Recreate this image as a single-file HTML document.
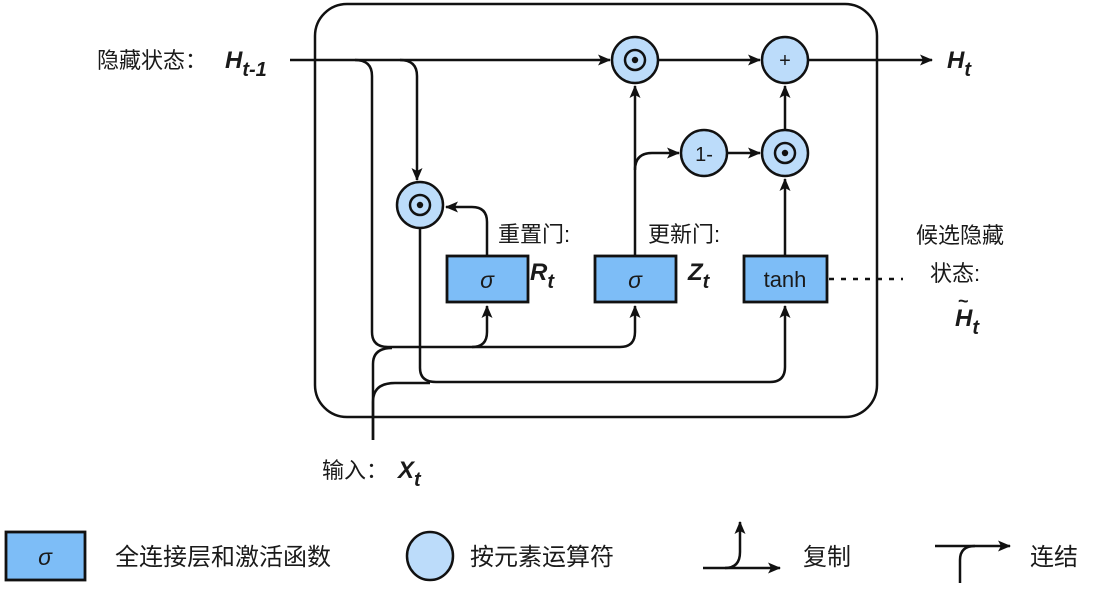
<!DOCTYPE html>
<html><head><meta charset="utf-8"><style>
html,body{margin:0;padding:0;background:#fff;}
svg{display:block;}
text{font-family:"Liberation Sans","Noto Sans CJK SC",sans-serif;fill:#1a1a1a;}
.b{font-weight:bold;font-style:italic;}
</style></head><body>
<svg width="1096" height="592" viewBox="0 0 1096 592" xmlns="http://www.w3.org/2000/svg">
<defs>
<marker id="a" markerWidth="13" markerHeight="11" refX="12" refY="5.5" orient="auto" markerUnits="userSpaceOnUse">
<path d="M0,0 L13,5.5 L0,11 L3,5.5 Z" fill="#111"/></marker>
</defs>
<g fill="none" stroke="#111" stroke-width="2.5">
<rect x="315" y="4" width="562" height="413" rx="32"/>
<path d="M290,60 L610,60" marker-end="url(#a)"/>
<path d="M355,60 Q372,60 372,76 L372,332 Q372,347 388,347 L472,347 Q487,347 487,332 L487,306" marker-end="url(#a)"/>
<path d="M472,347 L620,347 Q635,347 635,332 L635,306" marker-end="url(#a)"/>
<path d="M400,60 Q417,60 417,76 L417,180" marker-end="url(#a)"/>
<path d="M420,228 L420,368 Q420,382 436,382 L770,382 Q785,382 785,367 L785,306" marker-end="url(#a)"/>
<path d="M373,440 L373,364 Q373,348 392,348"/>
<path d="M373,440 L373,402 Q373,383 395,383 L430,383"/>
<path d="M487,256 L487,222 Q487,207 472,207 L446,207" marker-end="url(#a)"/>
<path d="M635,256 L635,86" marker-end="url(#a)"/>
<path d="M635,170 Q635,153 652,153 L679,153" marker-end="url(#a)"/>
<path d="M727,153 L760,153" marker-end="url(#a)"/>
<path d="M785,256 L785,179" marker-end="url(#a)"/>
<path d="M785,130 L785,86" marker-end="url(#a)"/>
<path d="M658,60 L760,60" marker-end="url(#a)"/>
<path d="M808,60 L932,60" marker-end="url(#a)"/>
<path d="M829,279 L903,279" stroke-dasharray="5,7"/>
</g>
<g stroke="#111" stroke-width="2.5" fill="#bcdcfa">
<circle cx="635" cy="60" r="23"/><circle cx="785" cy="60" r="23"/>
<circle cx="704" cy="153" r="23"/><circle cx="785" cy="153" r="23"/>
<circle cx="420" cy="205" r="23"/>
</g>
<g fill="none" stroke="#111" stroke-width="2.5">
<circle cx="635" cy="60" r="10"/><circle cx="785" cy="153" r="10"/><circle cx="420" cy="205" r="10"/>
</g>
<g fill="#111"><circle cx="635" cy="60" r="3.2"/><circle cx="785" cy="153" r="3.2"/><circle cx="420" cy="205" r="3.2"/></g>
<g stroke="#111" stroke-width="2.8" fill="#7dbdf7">
<rect x="447" y="256" width="81" height="46"/>
<rect x="595" y="256" width="81" height="46"/>
<rect x="744" y="256" width="83" height="46"/>
</g>
<text x="487" y="288" font-size="23" font-style="italic" text-anchor="middle">σ</text>
<text x="635" y="288" font-size="23" font-style="italic" text-anchor="middle">σ</text>
<text x="785" y="287" font-size="22" text-anchor="middle">tanh</text>
<text x="785" y="67" font-size="20" text-anchor="middle">+</text>
<text x="704" y="161" font-size="20" text-anchor="middle">1-</text>
<text x="97" y="68" font-size="22">隐藏状态：</text>
<text x="225" y="68" font-size="24" class="b">H<tspan font-size="20" dy="8">t-1</tspan></text>
<text x="947" y="68" font-size="24" class="b">H<tspan font-size="20" dy="8">t</tspan></text>
<text x="498" y="242" font-size="22">重置门:</text>
<text x="530" y="280" font-size="24" class="b">R<tspan font-size="20" dy="8">t</tspan></text>
<text x="648" y="242" font-size="22">更新门:</text>
<text x="688" y="280" font-size="24" class="b">Z<tspan font-size="20" dy="8">t</tspan></text>
<text x="916" y="243" font-size="22">候选隐藏</text>
<text x="930" y="281" font-size="22">状态:</text>
<text x="955" y="326" font-size="24" class="b">H<tspan font-size="20" dy="8">t</tspan></text>
<text x="958" y="307" font-size="18" font-weight="bold">~</text>
<text x="322" y="478" font-size="22">输入：</text>
<text x="398" y="478" font-size="24" class="b">X<tspan font-size="20" dy="8">t</tspan></text>
<rect x="6" y="532" width="79" height="48" fill="#7dbdf7" stroke="#111" stroke-width="2.8"/>
<text x="45" y="565" font-size="23" font-style="italic" text-anchor="middle">σ</text>
<text x="115" y="565" font-size="24">全连接层和激活函数</text>
<ellipse cx="430" cy="556" rx="23" ry="24" fill="#bcdcfa" stroke="#111" stroke-width="2.5"/>
<text x="470" y="565" font-size="24">按元素运算符</text>
<g fill="none" stroke="#111" stroke-width="2.5">
<path d="M703,568 L780,568" marker-end="url(#a)"/>
<path d="M725,568 Q740,568 740,552 L740,522" marker-end="url(#a)"/>
<path d="M935,546 L1010,546" marker-end="url(#a)"/>
<path d="M960,583 L960,560 Q960,546 975,546"/>
</g>
<text x="803" y="565" font-size="24">复制</text>
<text x="1030" y="565" font-size="24">连结</text>
</svg>
</body></html>
